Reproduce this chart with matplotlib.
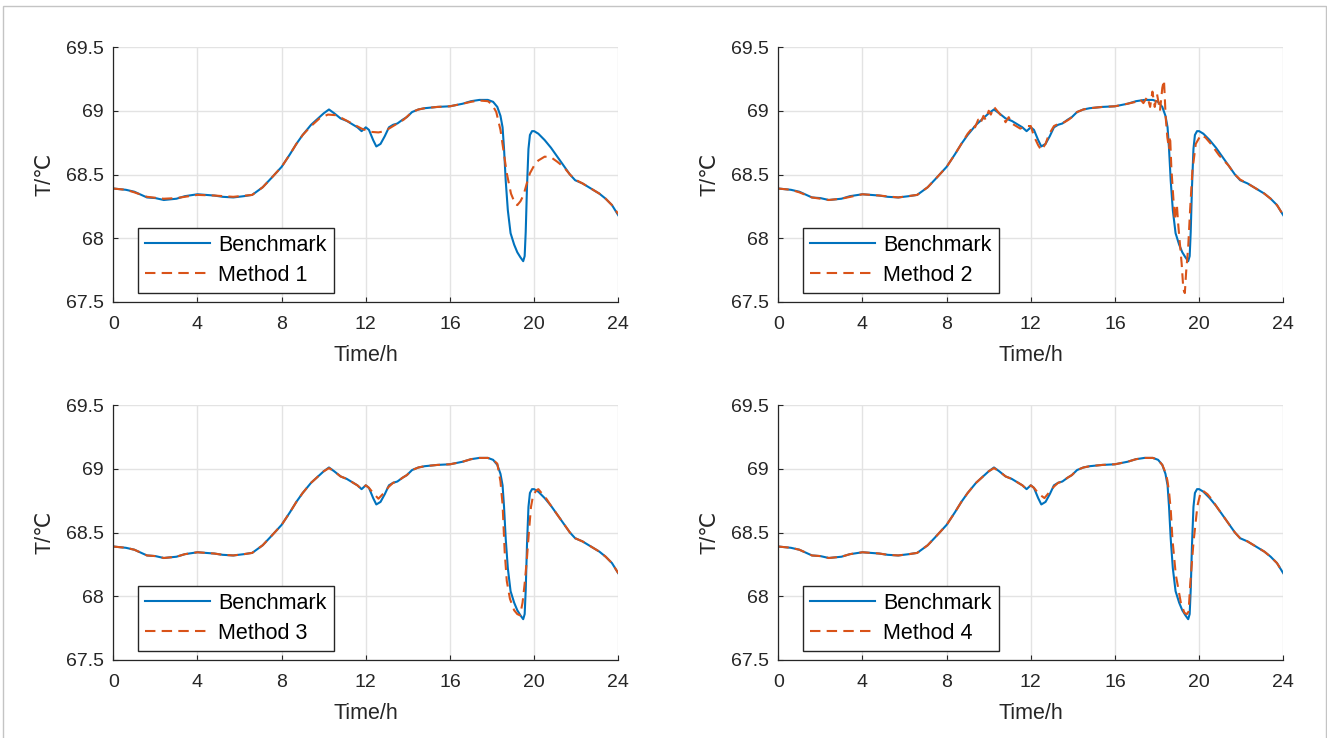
import numpy as np
import matplotlib
matplotlib.use("Agg")
import matplotlib.pyplot as plt
from matplotlib.patches import Rectangle

plt.rcParams['font.family'] = ['Liberation Sans', 'DejaVu Sans']

# benchmark temperature (hours, degC)
bench_h = [0, 0.6, 1.0, 1.6, 2.0, 2.4, 3.0, 3.4, 4.0, 4.4, 4.8, 5.2, 5.7, 6.2, 6.6,
           7.1, 7.5, 8.0, 8.4, 8.7, 9.0, 9.4, 9.8, 10.0, 10.25, 10.5, 10.8, 11.1,
           11.4, 11.6, 11.8, 12.0, 12.15, 12.35, 12.5, 12.7, 12.9, 13.1, 13.3, 13.5,
           13.75, 13.95, 14.2, 14.5, 14.8, 15.4, 16.0, 16.6, 17.0, 17.4, 17.8, 18.05,
           18.25, 18.4, 18.5, 18.57, 18.65, 18.75, 18.88, 19.05, 19.2, 19.35, 19.48,
           19.55, 19.6, 19.66, 19.73, 19.8, 19.9, 20.0, 20.2, 20.5, 20.8, 21.1, 21.4,
           21.7, 21.95, 22.3, 22.7, 23.1, 23.4, 23.7, 24.0]
bench_t = [68.39, 68.38, 68.365, 68.32, 68.315, 68.30, 68.31, 68.33, 68.345, 68.34,
           68.335, 68.325, 68.32, 68.33, 68.34, 68.40, 68.47, 68.56, 68.66, 68.74,
           68.81, 68.89, 68.95, 68.98, 69.01, 68.98, 68.94, 68.92, 68.89, 68.87,
           68.84, 68.87, 68.85, 68.77, 68.72, 68.74, 68.80, 68.87, 68.89, 68.90,
           68.93, 68.95, 68.99, 69.01, 69.02, 69.03, 69.035, 69.055, 69.075, 69.085,
           69.085, 69.07, 69.03, 68.96, 68.87, 68.70, 68.45, 68.22, 68.04, 67.95,
           67.89, 67.85, 67.82, 67.86, 68.05, 68.40, 68.70, 68.81, 68.84, 68.84,
           68.82, 68.77, 68.71, 68.64, 68.57, 68.50, 68.455, 68.43, 68.39, 68.35,
           68.31, 68.26, 68.18]

m1_h = [0, 0.6, 1.0, 1.6, 2.4, 3.0, 4.0, 4.8, 5.7, 6.6, 7.1, 7.5, 8.0, 8.4, 8.7,
        9.0, 9.4, 9.8, 10.2, 10.6, 11.0, 11.4, 11.8, 12.2, 12.6, 12.9, 13.2, 13.5,
        13.8, 14.2, 14.5, 14.8, 15.4, 16.0, 16.6, 17.0, 17.4, 17.8, 18.0, 18.2,
        18.4, 18.55, 18.7, 18.9, 19.1, 19.2, 19.35, 19.5, 19.65, 19.8, 20.0, 20.2,
        20.5, 20.8, 21.1, 21.4, 21.7, 21.95, 22.3, 22.7, 23.1, 23.4, 23.7, 24.0]
m1_t = [68.39, 68.38, 68.36, 68.325, 68.31, 68.315, 68.34, 68.335, 68.325, 68.34,
        68.40, 68.47, 68.56, 68.66, 68.74, 68.81, 68.88, 68.94, 68.97, 68.965,
        68.93, 68.895, 68.86, 68.835, 68.83, 68.84, 68.87, 68.90, 68.93, 68.99,
        69.01, 69.02, 69.03, 69.035, 69.055, 69.07, 69.08, 69.075, 69.05, 68.99,
        68.85, 68.68, 68.51, 68.35, 68.27, 68.26, 68.29, 68.34, 68.43, 68.51,
        68.57, 68.61, 68.64, 68.635, 68.60, 68.56, 68.50, 68.46, 68.43, 68.39,
        68.35, 68.31, 68.26, 68.19]

m2_h = [0, 0.6, 1.0, 1.6, 2.4, 3.0, 4.0, 4.8, 5.7, 6.6, 7.1, 7.5, 8.0, 8.4, 8.7,
        9.0, 9.15, 9.25, 9.35, 9.5, 9.6, 9.75, 9.85, 10.0, 10.1, 10.25, 10.4, 10.55,
        10.7, 10.8, 10.95, 11.1, 11.3, 11.5, 11.75, 12.0, 12.15, 12.35, 12.5, 12.7,
        12.85, 13.1, 13.35, 13.6, 13.8, 13.95, 14.2, 14.5, 14.8, 15.4, 16.0, 16.6,
        17.0, 17.2, 17.35, 17.54, 17.67, 17.78, 17.89, 18.0, 18.14, 18.25, 18.33,
        18.41, 18.49, 18.57, 18.62, 18.68, 18.78, 18.84, 18.94, 19.0, 19.1, 19.17,
        19.25, 19.32, 19.38, 19.48, 19.57, 19.68, 19.84, 20.08, 20.3, 20.56, 20.95,
        21.4, 21.7, 21.95, 22.3, 22.7, 23.1, 23.4, 23.7, 24.0]
m2_t = [68.39, 68.38, 68.36, 68.32, 68.30, 68.31, 68.345, 68.335, 68.32, 68.34,
        68.40, 68.47, 68.56, 68.66, 68.74, 68.82, 68.85, 68.89, 68.87, 68.93,
        68.90, 68.96, 68.93, 69.00, 68.97, 69.03, 69.00, 68.97, 68.95, 68.91,
        68.95, 68.90, 68.88, 68.86, 68.88, 68.88, 68.80, 68.73, 68.69, 68.74,
        68.81, 68.88, 68.90, 68.91, 68.93, 68.95, 68.99, 69.01, 69.02, 69.03,
        69.035, 69.055, 69.07, 69.09, 69.06, 69.11, 69.03, 69.15, 69.03, 69.13,
        69.00, 69.18, 69.24, 68.95, 68.79, 68.70, 68.80, 68.55, 68.30, 68.14,
        68.27, 68.12, 67.93, 67.80, 67.60, 67.57, 67.73, 67.93, 68.22, 68.53,
        68.74, 68.81, 68.79, 68.74, 68.65, 68.57, 68.50, 68.46, 68.43, 68.39,
        68.35, 68.31, 68.26, 68.18]

m3_h = [0, 0.6, 1.0, 1.6, 2.0, 2.4, 3.0, 3.4, 4.0, 4.4, 4.8, 5.2, 5.7, 6.2, 6.6,
        7.1, 7.5, 8.0, 8.4, 8.7, 9.0, 9.4, 9.8, 10.0, 10.25, 10.5, 10.8, 11.1,
        11.4, 11.6, 11.8, 12.0, 12.15, 12.4, 12.6, 12.8, 13.1, 13.3, 13.5, 13.75,
        13.95, 14.2, 14.5, 14.8, 15.4, 16.0, 16.6, 17.0, 17.4, 17.8, 18.05, 18.25,
        18.4, 18.5, 18.6, 18.7, 18.85, 19.05, 19.2, 19.33, 19.45, 19.55, 19.65,
        19.75, 19.85, 19.95, 20.1, 20.2, 20.4, 20.6, 20.8, 21.1, 21.4, 21.7, 21.95,
        22.3, 22.7, 23.1, 23.4, 23.7, 24.0]
m3_t = [68.39, 68.38, 68.365, 68.32, 68.315, 68.30, 68.31, 68.33, 68.345, 68.34,
        68.335, 68.325, 68.32, 68.33, 68.34, 68.40, 68.47, 68.56, 68.66, 68.74,
        68.81, 68.89, 68.95, 68.98, 69.005, 68.98, 68.94, 68.92, 68.89, 68.87,
        68.84, 68.87, 68.85, 68.80, 68.765, 68.80, 68.86, 68.89, 68.90, 68.93,
        68.95, 68.99, 69.01, 69.02, 69.03, 69.035, 69.055, 69.075, 69.085, 69.085,
        69.07, 69.04, 68.90, 68.72, 68.35, 68.12, 67.98, 67.89, 67.86, 67.85,
        67.95, 68.10, 68.28, 68.50, 68.70, 68.79, 68.83, 68.84, 68.80, 68.76,
        68.71, 68.64, 68.57, 68.50, 68.455, 68.43, 68.39, 68.35, 68.31, 68.26,
        68.18]

m4_h = [0, 0.6, 1.0, 1.6, 2.0, 2.4, 3.0, 3.4, 4.0, 4.4, 4.8, 5.2, 5.7, 6.2, 6.6,
        7.1, 7.5, 8.0, 8.4, 8.7, 9.0, 9.4, 9.8, 10.0, 10.25, 10.5, 10.8, 11.1,
        11.4, 11.6, 11.8, 12.0, 12.15, 12.4, 12.65, 12.85, 13.1, 13.3, 13.5, 13.75,
        13.95, 14.2, 14.5, 14.8, 15.4, 16.0, 16.6, 17.0, 17.4, 17.8, 18.05, 18.25,
        18.4, 18.49, 18.57, 18.65, 18.73, 18.89, 19.13, 19.3, 19.42, 19.5, 19.57,
        19.73, 19.92, 20.05, 20.16, 20.4, 20.6, 20.8, 21.1, 21.4, 21.7, 21.95,
        22.3, 22.7, 23.1, 23.4, 23.7, 24.0]
m4_t = [68.39, 68.38, 68.365, 68.32, 68.315, 68.30, 68.31, 68.33, 68.345, 68.34,
        68.335, 68.325, 68.32, 68.33, 68.34, 68.40, 68.47, 68.56, 68.66, 68.74,
        68.81, 68.89, 68.95, 68.98, 69.005, 68.98, 68.94, 68.92, 68.89, 68.87,
        68.84, 68.87, 68.85, 68.80, 68.77, 68.81, 68.86, 68.89, 68.90, 68.93,
        68.95, 68.99, 69.01, 69.02, 69.03, 69.035, 69.055, 69.075, 69.085, 69.085,
        69.07, 69.03, 68.97, 68.91, 68.82, 68.68, 68.45, 68.17, 67.95, 67.87,
        67.86, 67.88, 68.08, 68.42, 68.71, 68.80, 68.83, 68.80, 68.76, 68.71,
        68.64, 68.57, 68.50, 68.455, 68.43, 68.39, 68.35, 68.31, 68.26, 68.18]

methods = ["Method 1", "Method 2", "Method 3", "Method 4"]
method_h = [m1_h, m2_h, m3_h, m4_h]
method_t = [m1_t, m2_t, m3_t, m4_t]

xticks = [0, 4, 8, 12, 16, 20, 24]
yticks = [67.5, 68, 68.5, 69, 69.5]
ytick_labels = ["67.5", "68", "68.5", "69", "69.5"]

W, H = 1327, 738
fig = plt.figure(figsize=(W / 100, H / 100), dpi=100)
fig.patch.set_facecolor("white")

# axes boxes in pixels: left, top
boxes = [(113.3, 47), (778.3, 47), (113.3, 405), (778.3, 405)]
aw, ah = 505, 255

dark = "#262626"
for i in range(4):
    x0, y0 = boxes[i]
    ax = fig.add_axes([x0 / W, 1 - (y0 + ah) / H, aw / W, ah / H])
    ax.plot(bench_h, bench_t, color="#0072BD", lw=1.5, label="Benchmark")
    ax.plot(method_h[i], method_t[i], color="#D95319", lw=1.5,
            dashes=(5, 3), label=methods[i])
    ax.set_xlim(0, 24)
    ax.set_ylim(67.5, 69.5)
    ax.set_xticks(xticks)
    ax.set_yticks(yticks)
    ax.set_yticklabels(ytick_labels)
    ax.grid(True, color="#e3e3e3", lw=1.0)
    ax.set_axisbelow(True)
    for s in ["top", "right"]:
        ax.spines[s].set_visible(False)
    for s in ["left", "bottom"]:
        ax.spines[s].set_color(dark)
        ax.spines[s].set_linewidth(0.9)
    ax.tick_params(direction="in", length=3.5, width=0.8, colors=dark,
                   labelsize=14, labelcolor=dark)
    ax.tick_params(axis="x", pad=10)
    ax.tick_params(axis="y", pad=7)
    ax.set_xlabel("Time/h", fontsize=15.5, color=dark, labelpad=9)
    ax.set_ylabel("T/℃", fontsize=15.5, color=dark, labelpad=7)
    leg = ax.legend(loc="lower left", bbox_to_anchor=(0.049, 0.035),
                    borderaxespad=0, fontsize=15.5, handlelength=3.0,
                    handletextpad=0.4, labelspacing=0.43, borderpad=0.33,
                    fancybox=False, framealpha=1)
    leg.get_frame().set_edgecolor(dark)
    leg.get_frame().set_linewidth(1.0)

fig.patches.append(Rectangle((3 / W, -0.01), (1326 - 3) / W, 1 - 6 / H + 0.01,
                             transform=fig.transFigure, fill=False,
                             edgecolor="#c4c4c4", lw=1.0))

fig.savefig("out.png", dpi=100)
